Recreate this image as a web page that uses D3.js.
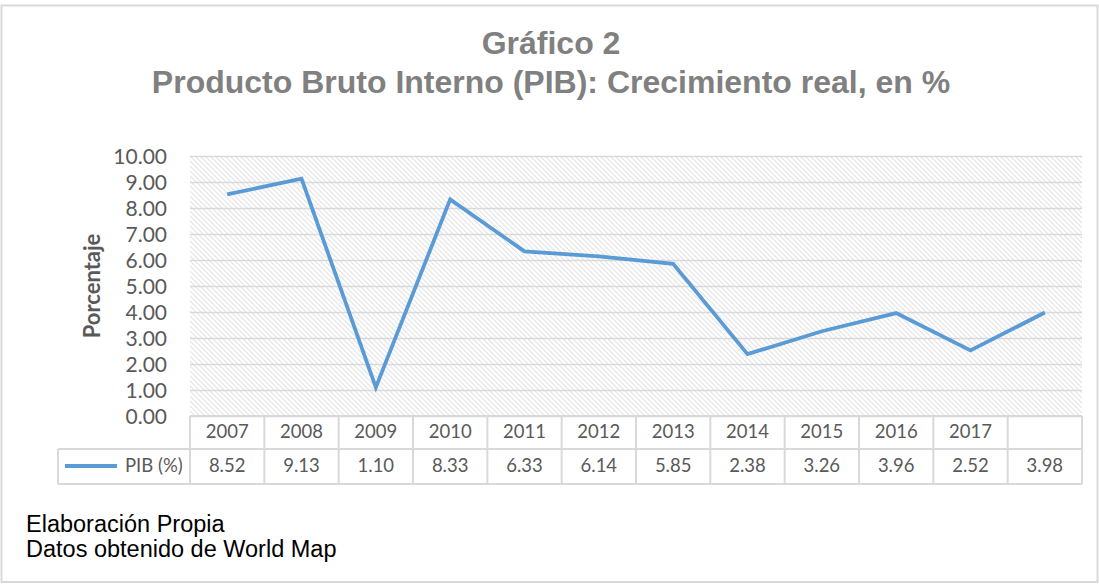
<!DOCTYPE html>
<html>
<head>
<meta charset="utf-8">
<script src="https://cdn.jsdelivr.net/npm/d3@7"></script>
<style>
  body { margin: 0; background: #fff; }
  svg { display: block; }
</style>
</head>
<body>
<div id="chart"></div>
<script>
// chart data
const years = ['2007', '2008', '2009', '2010', '2011', '2012', '2013', '2014', '2015', '2016', '2017', ''];
const pib = [8.52, 9.13, 1.10, 8.33, 6.33, 6.14, 5.85, 2.38, 3.26, 3.96, 2.52, 3.98];
const yTicks = [0, 1, 2, 3, 4, 5, 6, 7, 8, 9, 10];
const titleLines = ['Gráfico 2', 'Producto Bruto Interno (PIB): Crecimiento real, en %'];
const footerLines = ['Elaboración Propia', 'Datos obtenido de World Map'];
const seriesName = 'PIB (%)';

const W = 1099, H = 584;
const margin = { top: 156, right: 17, bottom: 168, left: 190 };
const width = W - margin.left - margin.right;
const height = H - margin.top - margin.bottom;
const lineColor = '#5b9bd5';
const gridColor = '#d9d9d9';
const textColor = '#595959';
const tableFont = "Lato, 'Open Sans', sans-serif";
const titleFont = "'Liberation Sans', Arial, sans-serif";

const svg = d3.select('#chart')
    .append('svg')
    .attr('width', W)
    .attr('height', H);

// outer frame
svg.append('rect')
    .attr('x', 1.5).attr('y', 5.5)
    .attr('width', W - 3).attr('height', H - 7.5)
    .attr('fill', 'none')
    .attr('stroke', gridColor)
    .attr('stroke-width', 2);

// hatch pattern
const pattern = svg.append('defs')
    .append('pattern')
    .attr('id', 'hatch')
    .attr('patternUnits', 'userSpaceOnUse')
    .attr('width', 5)
    .attr('height', 5);
pattern.append('path')
    .attr('d', 'M-1,-1 L6,6 M-1,4 L1,6 M4,-1 L6,1')
    .attr('stroke', '#e3e3e3')
    .attr('stroke-width', 1.1);

// title
svg.append('g')
    .selectAll('text')
    .data(titleLines)
    .enter()
    .append('text')
    .attr('x', 551)
    .attr('y', (d, i) => 54 + i * 39)
    .attr('text-anchor', 'middle')
    .attr('fill', '#808080')
    .style('font-family', titleFont)
    .style('font-weight', 'bold')
    .style('font-size', '32px')
    .text(d => d);

const g = svg.append('g')
    .attr('transform', `translate(${margin.left},${margin.top})`);

const x = d3.scaleBand()
    .domain(d3.range(years.length))
    .range([0, width]);

const y = d3.scaleLinear()
    .domain([0, 10])
    .range([height, 0]);

g.append('rect')
    .attr('width', width)
    .attr('height', height)
    .attr('fill', 'url(#hatch)');

// gridlines
g.append('g')
    .call(d3.axisLeft(y)
        .tickValues(yTicks)
        .tickSize(-width)
        .tickFormat('')
    )
    .call(g => g.select('.domain').remove())
    .call(g => g.selectAll('line').attr('stroke', gridColor).attr('stroke-width', 1.5));

// y labels
g.append('g')
    .call(d3.axisLeft(y).tickValues(yTicks).tickSize(0).tickPadding(23).tickFormat(d3.format('.2f')))
    .call(g => g.select('.domain').remove())
    .call(g => g.selectAll('text')
        .attr('fill', textColor)
        .attr('dy', '0.36em')
        .style('font-family', tableFont)
        .style('font-size', '21px'));

svg.append('text')
    .attr('transform', `translate(100,${margin.top + height / 2}) rotate(-90)`)
    .attr('text-anchor', 'middle')
    .attr('fill', textColor)
    .style('font-family', tableFont)
    .style('font-weight', 'bold')
    .style('font-size', '22px')
    .text('Porcentaje');

// line
const line = d3.line()
    .x((d, i) => x(i) + x.bandwidth() / 2)
    .y(d => y(d));

g.append('path')
    .datum(pib)
    .attr('fill', 'none')
    .attr('stroke', lineColor)
    .attr('stroke-width', 3.8)
    .attr('stroke-linejoin', 'miter')
    .attr('d', line);

// data table
const row1 = height, row2 = height + 33, row3 = height + 68;
const legendLeft = 58 - margin.left;
const table = g.append('g')
    .attr('stroke', gridColor)
    .attr('stroke-width', 2);

table.append('line').attr('x1', 0).attr('x2', width).attr('y1', row1).attr('y2', row1);
table.append('line').attr('x1', legendLeft).attr('x2', width).attr('y1', row2).attr('y2', row2);
table.append('line').attr('x1', legendLeft).attr('x2', width).attr('y1', row3).attr('y2', row3);
table.append('line').attr('x1', legendLeft).attr('x2', legendLeft).attr('y1', row2).attr('y2', row3);
table.selectAll('.vline')
    .data(d3.range(years.length + 1))
    .enter()
    .append('line')
    .attr('class', 'vline')
    .attr('x1', i => i < years.length ? x(i) : width)
    .attr('x2', i => i < years.length ? x(i) : width)
    .attr('y1', row1)
    .attr('y2', row3);

g.selectAll('.year')
    .data(years)
    .enter()
    .append('text')
    .attr('x', (d, i) => x(i) + x.bandwidth() / 2)
    .attr('y', row1 + 22)
    .attr('text-anchor', 'middle')
    .attr('fill', textColor)
    .style('font-family', tableFont)
    .style('font-size', '18.5px')
    .text(d => d);

g.selectAll('.val')
    .data(pib)
    .enter()
    .append('text')
    .attr('x', (d, i) => x(i) + x.bandwidth() / 2)
    .attr('y', row2 + 23)
    .attr('text-anchor', 'middle')
    .attr('fill', textColor)
    .style('font-family', tableFont)
    .style('font-size', '18.5px')
    .text(d => d3.format('.2f')(d));

// legend key
g.append('line')
    .attr('x1', legendLeft + 7).attr('x2', legendLeft + 59)
    .attr('y1', row2 + 17).attr('y2', row2 + 17)
    .attr('stroke', lineColor)
    .attr('stroke-width', 3.8);

g.append('text')
    .attr('x', legendLeft + 67)
    .attr('y', row2 + 23)
    .attr('fill', textColor)
    .style('font-family', tableFont)
    .style('font-size', '18.5px')
    .text(seriesName);

// footer
svg.append('g')
    .selectAll('text')
    .data(footerLines)
    .enter()
    .append('text')
    .attr('x', 26)
    .attr('y', (d, i) => 532 + i * 25)
    .attr('fill', '#000')
    .style('font-family', titleFont)
    .style('font-size', '23.5px')
    .text(d => d);
</script>
</body>
</html>
